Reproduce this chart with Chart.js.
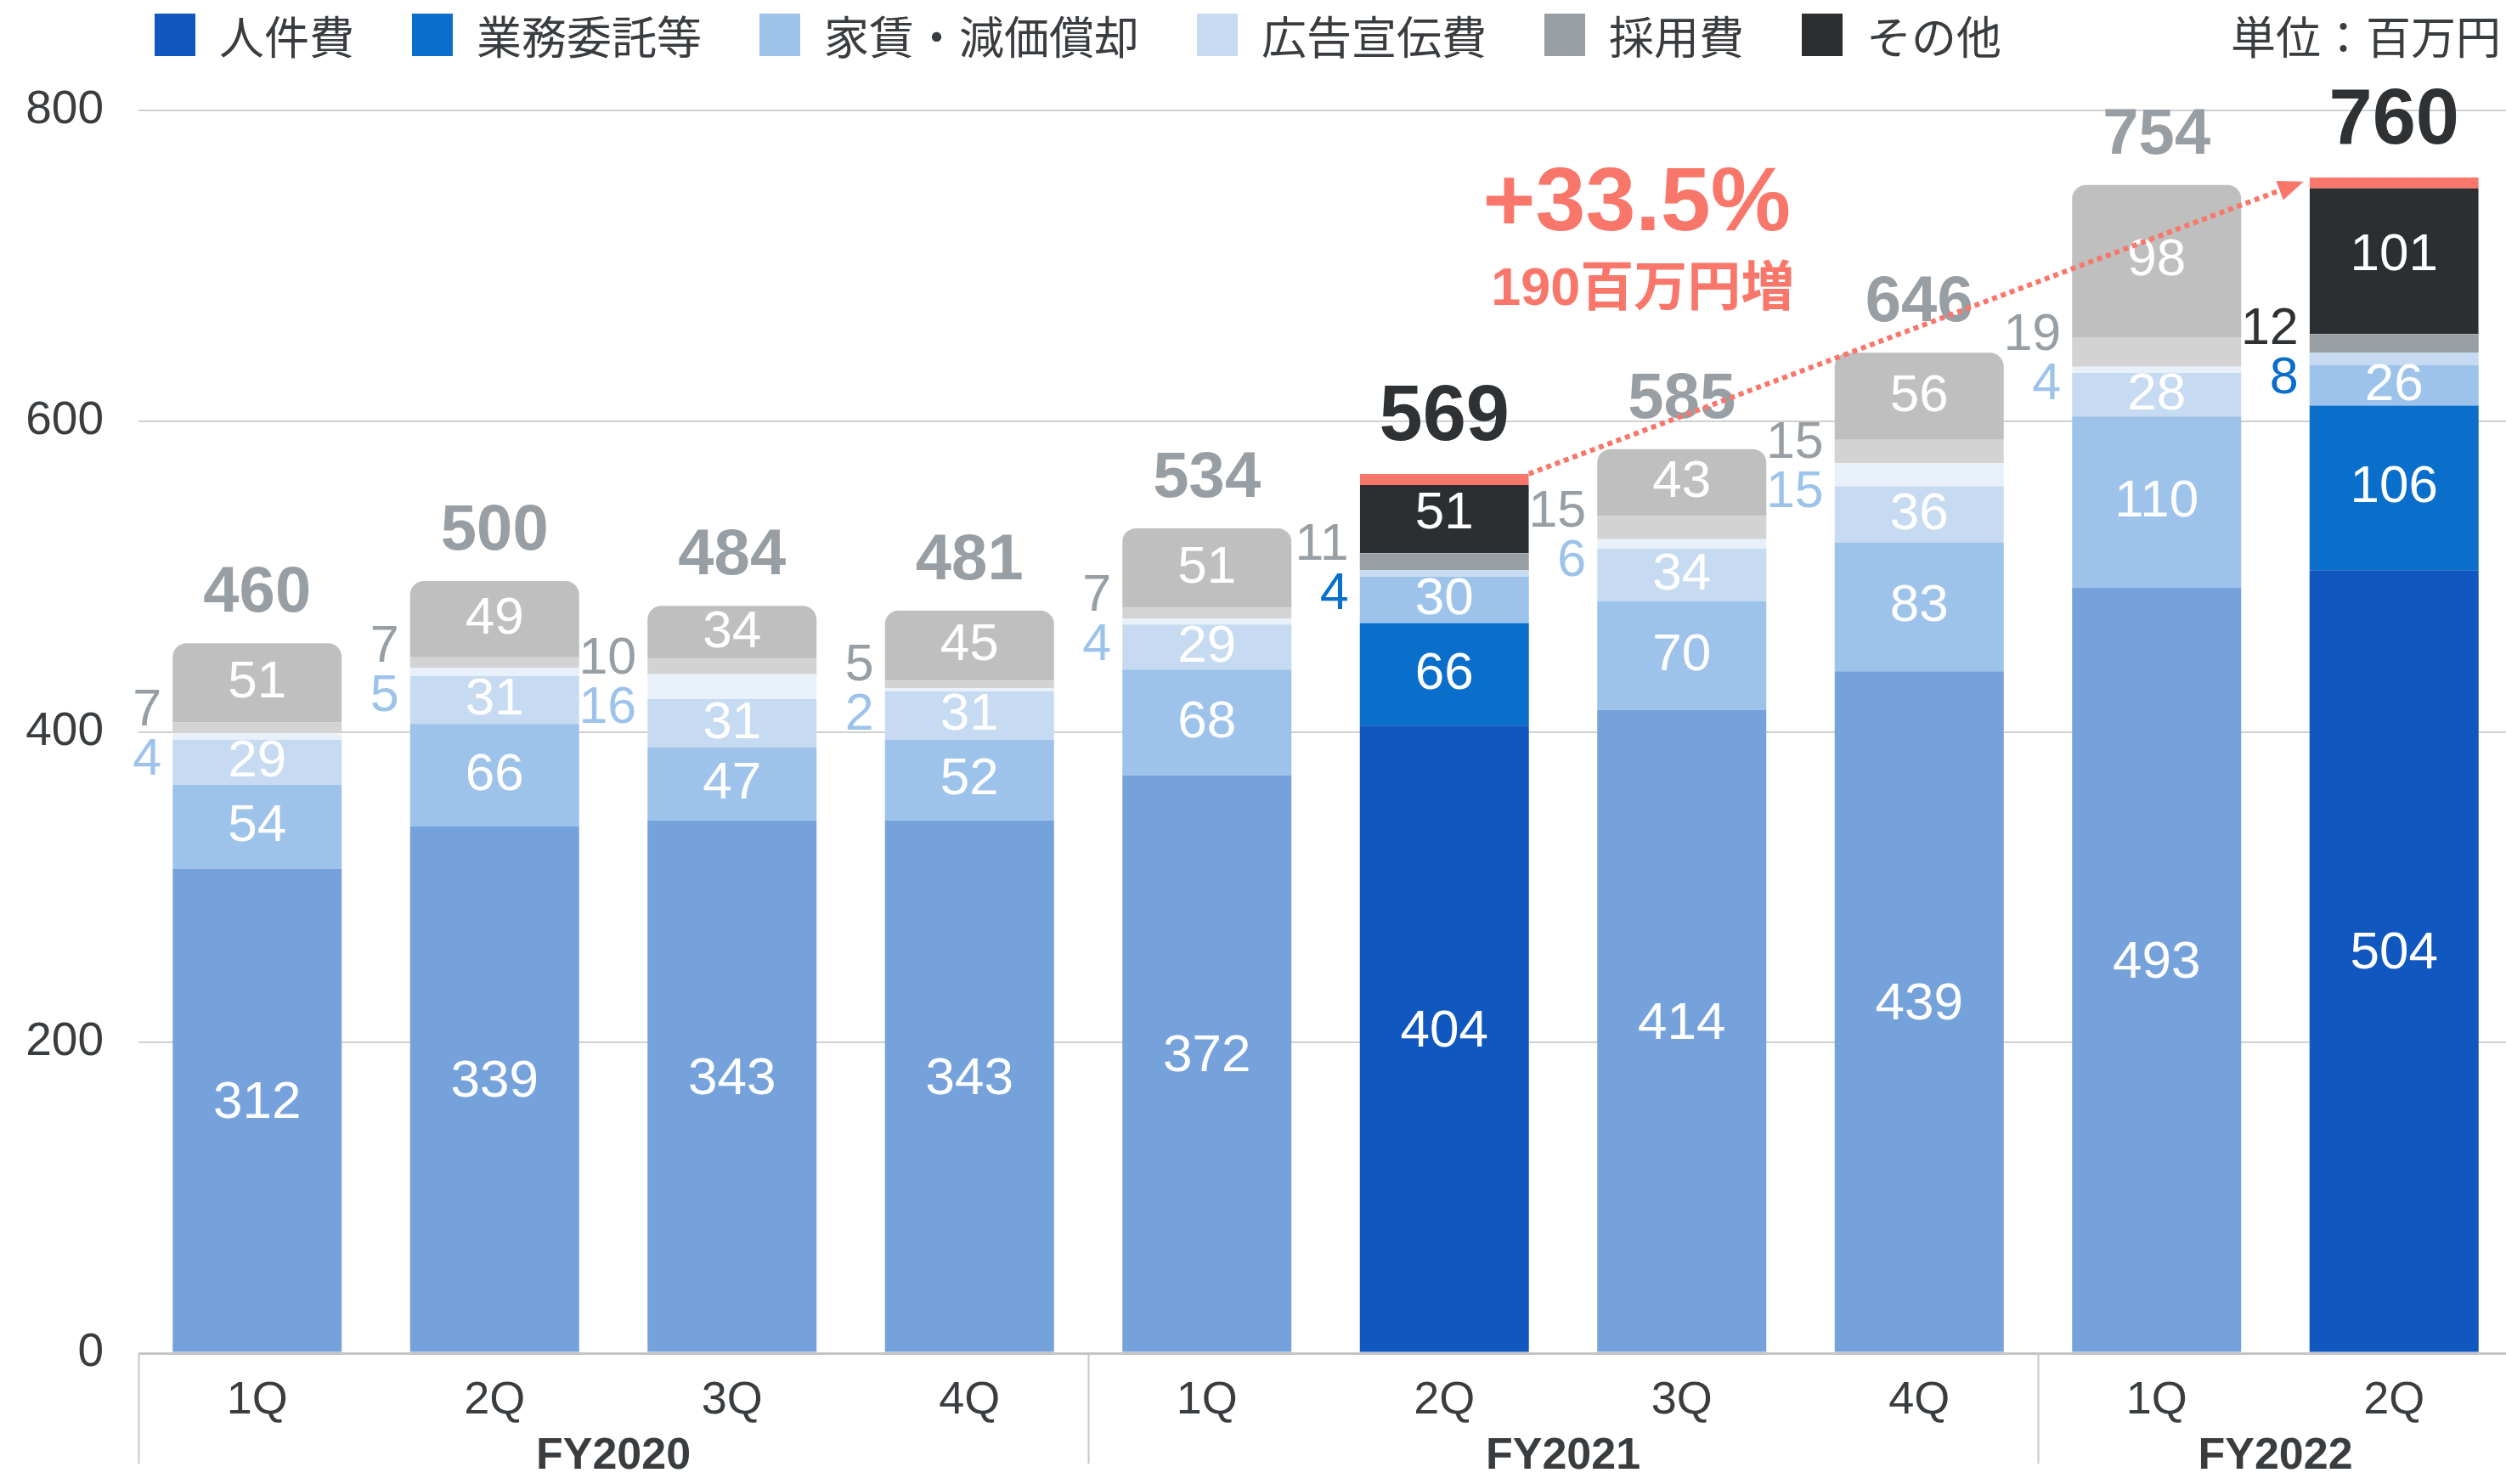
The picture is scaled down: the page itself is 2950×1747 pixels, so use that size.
<!DOCTYPE html>
<html>
<head>
<meta charset="utf-8">
<script src="https://cdn.jsdelivr.net/npm/chart.js@4.4.1/dist/chart.umd.min.js"></script>
<style>
  html, body { margin:0; padding:0; background:#fff; overflow:hidden; width:2950px; height:1747px; }
  #wrap { position:absolute; left:0; top:0; width:2960px; height:1747px; }
  #legend { position:absolute; left:182px; top:16px; height:50px; display:flex; align-items:center;
            font-family:"Noto Sans CJK JP", sans-serif; font-size:53px; color:#3a3d40; white-space:nowrap; }
  .item { display:flex; align-items:center; margin-right:68px; height:50px; }
  .sw { width:48px; height:50px; margin-right:28px; flex:none; }
  #unit { position:absolute; left:2626px; top:16px; height:50px; line-height:50px;
          font-family:"Noto Sans CJK JP", sans-serif; font-size:53px; color:#3a3d40; white-space:nowrap; }
</style>
</head>
<body>
<div id="wrap">
  <canvas id="c" width="2960" height="1747"></canvas>
  <div id="legend"></div>
  <div id="unit">単位：百万円</div>
</div>
<script>
// ---------------- data ----------------
const quarters    = ['1Q','2Q','3Q','4Q','1Q','2Q','3Q','4Q','1Q','2Q'];
const fiscalYears = ['FY2020','FY2021','FY2022'];
const yearSpans   = [4, 4, 2];
const seriesNames = ['人件費','業務委託等','家賃・減価償却','広告宣伝費','採用費','その他'];
const personnel   = [312, 339, 343, 343, 372, 404, 414, 439, 493, 504];
const outsourcing = [ 54,  66,  47,  52,  68,  66,  70,  83, 110, 106];
const rent        = [ 29,  31,  31,  31,  29,  30,  34,  36,  28,  26];
const advertising = [  4,   5,  16,   2,   4,   4,   6,  15,   4,   8];
const recruiting  = [  7,   7,  10,   5,   7,  11,  15,  15,  19,  12];
const other       = [ 51,  49,  34,  45,  51,  51,  43,  56,  98, 101];
const totals      = [460, 500, 484, 481, 534, 569, 585, 646, 754, 760];
const highlighted = [false,false,false,false,false,true,false,false,false,true];
const growthPct   = '+33.5%';
const growthAmt   = '190百万円増';
const unitLabel   = '単位：百万円';

// ---------------- style ----------------
const FONT = '"Liberation Sans", "Noto Sans CJK JP", sans-serif';
const TEXT = '#3a3d40';
const ACCENT = '#f9766a';
const normalColors    = ['#76a2dc','#9dc3eb','#c6dbf1','#e8f1fa','#d3d3d3','#bfbfbf'];
const highlightColors = ['#1157c0','#0a6ecb','#9dc3eb','#c6dbf1','#979fa5','#2c2f31'];
const recruitLabelColors = ['#979fa5','#979fa5','#979fa5','#979fa5','#979fa5','#979fa5','#979fa5','#979fa5','#979fa5','#2f3235'];
const adLabelColors      = ['#9dc3eb','#9dc3eb','#9dc3eb','#9dc3eb','#9dc3eb','#0a6ecb','#9dc3eb','#9dc3eb','#9dc3eb','#0a6ecb'];
const seriesValues = [personnel, outsourcing, rent, advertising, recruiting, other];

// legend (HTML)
const lg = document.getElementById('legend');
seriesNames.forEach((n, s) => {
  const it = document.createElement('div'); it.className = 'item';
  const sw = document.createElement('div'); sw.className = 'sw'; sw.style.background = highlightColors[s];
  const tx = document.createElement('span'); tx.textContent = n;
  it.appendChild(sw); it.appendChild(tx); lg.appendChild(it);
});
document.getElementById('unit').textContent = unitLabel;

const datasets = seriesNames.map((name, s) => ({
  label: name,
  data: seriesValues[s],
  backgroundColor: ctx => highlighted[ctx.dataIndex] ? highlightColors[s] : normalColors[s],
  borderColor: ACCENT,
  borderWidth: s === 5 ? (ctx => highlighted[ctx.dataIndex] ? {top:13, left:0, right:0, bottom:0} : 0) : 0,
  borderSkipped: 'start',
  borderRadius: s === 5 ? (ctx => highlighted[ctx.dataIndex] ? 0 : {topLeft:16, topRight:16, bottomLeft:0, bottomRight:0}) : 0,
  categoryPercentage: 1,
  barPercentage: 0.712
}));

const labelsPlugin = {
  id: 'valueLabels',
  afterDatasetsDraw(chart) {
    const ctx = chart.ctx;
    const metas = seriesNames.map((_, s) => chart.getDatasetMeta(s));
    ctx.save();
    ctx.textBaseline = 'middle';
    for (let i = 0; i < quarters.length; i++) {
      // inner labels
      ctx.font = `62px ${FONT}`;
      ctx.fillStyle = '#ffffff';
      ctx.textAlign = 'center';
      [0,1,2,5].forEach(s => {
        const el = metas[s].data[i];
        const off = s === 0 ? -8 : 0;
        ctx.fillText(String(seriesValues[s][i]), el.x, (el.y + el.base) / 2 + off);
      });
      // small segments, labelled at left of the bar
      const adv = metas[3].data[i], rec = metas[4].data[i];
      const mid = (adv.base + rec.y) / 2 + 6;
      const lx = adv.x - adv.width / 2 - 13;
      ctx.font = `61px ${FONT}`;
      ctx.textAlign = 'right';
      ctx.fillStyle = recruitLabelColors[i];
      ctx.fillText(String(recruiting[i]), lx, mid - 29);
      ctx.fillStyle = adLabelColors[i];
      ctx.fillText(String(advertising[i]), lx, mid + 29);
      // totals
      const top = metas[5].data[i];
      ctx.textAlign = 'center';
      if (highlighted[i]) {
        ctx.font = `bold 92px ${FONT}`;
        ctx.fillStyle = '#2f3235';
        ctx.fillText(String(totals[i]), top.x, top.y - 65);
      } else {
        ctx.font = `bold 76px ${FONT}`;
        ctx.fillStyle = '#979fa5';
        ctx.fillText(String(totals[i]), top.x, top.y - 58);
      }
    }
    ctx.restore();
  }
};

const groupPlugin = {
  id: 'groups',
  afterDraw(chart) {
    const ctx = chart.ctx, xs = chart.scales.x, ca = chart.chartArea;
    ctx.save();
    let start = 0;
    yearSpans.forEach((n, k) => {
      const leftX = start === 0 ? ca.left : (xs.getPixelForValue(start - 1) + xs.getPixelForValue(start)) / 2;
      const rightX = start + n >= quarters.length ? ca.right : (xs.getPixelForValue(start + n - 1) + xs.getPixelForValue(start + n)) / 2;
      ctx.strokeStyle = '#c8c8c8';
      ctx.lineWidth = 2;
      ctx.beginPath();
      ctx.moveTo(Math.round(leftX) + 0.5, ca.bottom);
      ctx.lineTo(Math.round(leftX) + 0.5, ca.bottom + 130);
      ctx.stroke();
      ctx.font = `bold 52px ${FONT}`;
      ctx.fillStyle = TEXT;
      ctx.textAlign = 'center';
      ctx.textBaseline = 'middle';
      ctx.fillText(fiscalYears[k], (leftX + rightX) / 2, ca.bottom + 122);
      start += n;
    });
    ctx.restore();
  }
};

const arrowPlugin = {
  id: 'growthArrow',
  afterDraw(chart) {
    const ctx = chart.ctx;
    const meta = chart.getDatasetMeta(5);
    const a = meta.data[highlighted.indexOf(true)];
    const b = meta.data[highlighted.lastIndexOf(true)];
    const sx = a.x + a.width / 2, sy = a.y;
    const ex = b.x - b.width / 2 - 7, ey = b.y + 5;
    const ang = Math.atan2(ey - sy, ex - sx);
    const headLen = 30, headHalf = 12;
    const bx = ex - headLen * Math.cos(ang), by = ey - headLen * Math.sin(ang);
    ctx.save();
    ctx.strokeStyle = ACCENT;
    ctx.fillStyle = ACCENT;
    ctx.lineWidth = 6;
    ctx.setLineDash([6, 5]);
    ctx.beginPath();
    ctx.moveTo(sx, sy);
    ctx.lineTo(bx, by);
    ctx.stroke();
    ctx.setLineDash([]);
    ctx.beginPath();
    ctx.moveTo(ex, ey);
    ctx.lineTo(bx - headHalf * Math.sin(ang), by + headHalf * Math.cos(ang));
    ctx.lineTo(bx + headHalf * Math.sin(ang), by - headHalf * Math.cos(ang));
    ctx.closePath();
    ctx.fill();
    // growth annotation
    ctx.textAlign = 'center';
    ctx.textBaseline = 'middle';
    ctx.font = `bold 106px ${FONT}`;
    ctx.fillText(growthPct, sx + 127, sy - 316);
    ctx.font = `bold 63px ${FONT}`;
    ctx.fillText(growthAmt, sx + 134, sy - 216);
    ctx.restore();
  }
};

new Chart(document.getElementById('c'), {
  type: 'bar',
  data: { labels: quarters, datasets },
  options: {
    responsive: false,
    animation: false,
    devicePixelRatio: 1,
    layout: { padding: { top: 130, right: 2, left: 0, bottom: 0 } },
    plugins: { legend: { display: false }, tooltip: { enabled: false } },
    scales: {
      x: {
        stacked: true,
        grid: { display: false, drawTicks: false },
        border: { display: false },
        ticks: { font: { size: 54, family: FONT }, color: TEXT, padding: 24 },
        afterFit: s => { s.height = 154; }
      },
      y: {
        stacked: true,
        min: 0, max: 800,
        ticks: { stepSize: 200, font: { size: 55, family: FONT }, color: TEXT, padding: 41 },
        grid: {
          drawTicks: false,
          color: c => (c.tick && c.tick.value === 0) ? '#c4c4c4' : '#d0d0d0',
          lineWidth: c => (c.tick && c.tick.value === 0) ? 3 : 2
        },
        border: { display: false },
        afterFit: s => { s.width = 163; }
      }
    }
  },
  plugins: [labelsPlugin, groupPlugin, arrowPlugin]
});
</script>
</body>
</html>
